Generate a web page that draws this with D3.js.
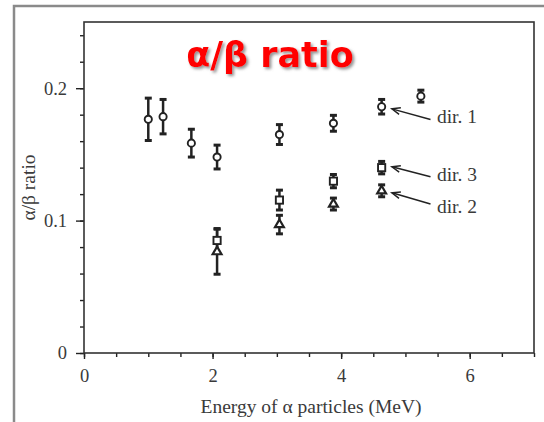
<!DOCTYPE html>
<html>
<head>
<meta charset="utf-8">
<script src="https://cdn.jsdelivr.net/npm/d3@7"></script>
<style>
  body { margin: 0; background: #fff; }
  svg { display: block; }
</style>
</head>
<body>
<div id="chart"></div>
<script>
// values
const energy = [1.0, 1.23, 1.67, 2.07, 3.04, 3.88, 4.63, 5.24];
const dir1Ratio = [0.1765, 0.1785, 0.1585, 0.148, 0.165, 0.1735, 0.186, 0.194];
const dir1Err = [0.016, 0.013, 0.0105, 0.009, 0.0075, 0.006, 0.0055, 0.0045];
const dirEnergy = [2.07, 3.04, 3.88, 4.63];
const dir3Ratio = [0.085, 0.1155, 0.1298, 0.140];
const dir3Err = [0.009, 0.0075, 0.005, 0.0047];
const dir2Ratio = [0.0765, 0.097, 0.1125, 0.1225];
const dir2Err = [0.017, 0.007, 0.0045, 0.0045];
const xTicks = [0, 2, 4, 6];
const yTicks = [0, 0.1, 0.2];
const dirLabels = ['dir. 1', 'dir. 3', 'dir. 2'];
const arrowTip = [[4.79, 0.1844], [4.79, 0.1406], [4.79, 0.121]];
const arrowTail = [[5.39, 0.1764], [5.39, 0.1331], [5.39, 0.1125]];
const labelAt = [[5.49, 0.1736], [5.49, 0.130], [5.49, 0.1054]];

const width = 544;
const height = 422;
const margin = { top: 22, right: 10, bottom: 69, left: 84 };
const innerWidth = width - margin.left - margin.right;
const innerHeight = height - margin.top - margin.bottom;
const ink = '#222';
const textInk = '#3a3a3a';
const serif = '"Liberation Serif", "Times New Roman", serif';

const svg = d3.select('#chart').append('svg').attr('width', width).attr('height', height);

const defs = svg.append('defs');
defs.append('filter').attr('id', 'shadow').attr('x', '-10%').attr('y', '-20%').attr('width', '130%').attr('height', '160%')
  .append('feDropShadow').attr('dx', 2).attr('dy', 2).attr('stdDeviation', 1.4)
  .attr('flood-color', '#777').attr('flood-opacity', 0.8);

// outer slide frame (top + left only visible)
svg.append('path').attr('d', `M14,${height} L14,6 L${width},6`)
  .attr('fill', 'none').attr('stroke', '#8a8a8a').attr('stroke-width', 2.5);

const g = svg.append('g').attr('transform', `translate(${margin.left}, ${margin.top})`);

const x = d3.scaleLinear().domain([0, 7]).range([0, innerWidth]);
const y = d3.scaleLinear().domain([0, 0.25]).range([innerHeight, 0]);

// minor ticks (no labels)
g.append('g').attr('transform', `translate(0, ${innerHeight})`)
  .call(d3.axisBottom(x).tickValues(d3.range(0, 7.01, 0.5)).tickSize(4).tickSizeOuter(0))
  .call(a => a.select('.domain').remove())
  .call(a => a.selectAll('text').remove());
g.append('g')
  .call(d3.axisLeft(y).tickValues(d3.range(0, 0.2401, 0.02)).tickSize(4).tickSizeOuter(0))
  .call(a => a.select('.domain').remove())
  .call(a => a.selectAll('text').remove());

// major ticks + labels
g.append('g').attr('transform', `translate(0, ${innerHeight})`)
  .call(d3.axisBottom(x).tickValues(xTicks).tickSize(6).tickPadding(10).tickFormat(d3.format('d')))
  .call(a => a.select('.domain').remove());
g.append('g')
  .call(d3.axisLeft(y).tickValues(yTicks).tickSize(8).tickPadding(9).tickFormat(d => d === 0 ? '0' : d3.format('.1f')(d)))
  .call(a => a.select('.domain').remove());

g.selectAll('.tick line').attr('stroke', ink).attr('stroke-width', 1.4);
g.selectAll('.tick text').attr('font-family', serif).attr('font-size', 18.5).attr('fill', textInk);

// plot frame
g.append('rect').attr('width', innerWidth).attr('height', innerHeight)
  .attr('fill', 'none').attr('stroke', '#333').attr('stroke-width', 1.6);

// axis titles
g.append('text').attr('x', innerWidth / 2 + 2).attr('y', innerHeight + 60)
  .attr('text-anchor', 'middle').attr('font-family', serif).attr('font-size', 19.5).attr('fill', textInk)
  .text('Energy of α particles (MeV)');
g.append('text').attr('transform', `translate(${-49}, ${innerHeight / 2}) rotate(-90)`)
  .attr('text-anchor', 'middle').attr('font-family', serif).attr('font-size', 19.5).attr('fill', textInk)
  .text('α/β ratio');

// error bars
function errorBars(xs, ys, es) {
  const data = xs.map((d, i) => ({ x: d, y: ys[i], e: es[i] }));
  const bars = g.append('g').attr('stroke', ink).attr('stroke-width', 2.5).attr('fill', 'none');
  bars.selectAll('line.v').data(data).join('line').attr('class', 'v')
    .attr('x1', d => x(d.x)).attr('x2', d => x(d.x))
    .attr('y1', d => y(d.y - d.e)).attr('y2', d => y(d.y + d.e));
  bars.selectAll('line.t').data(data).join('line').attr('class', 't')
    .attr('x1', d => x(d.x) - 3.5).attr('x2', d => x(d.x) + 3.5)
    .attr('y1', d => y(d.y + d.e)).attr('y2', d => y(d.y + d.e)).attr('stroke-width', 3);
  bars.selectAll('line.b').data(data).join('line').attr('class', 'b')
    .attr('x1', d => x(d.x) - 3.5).attr('x2', d => x(d.x) + 3.5)
    .attr('y1', d => y(d.y - d.e)).attr('y2', d => y(d.y - d.e)).attr('stroke-width', 3);
  return data;
}

const d1 = errorBars(energy, dir1Ratio, dir1Err);
const d3s = errorBars(dirEnergy, dir3Ratio, dir3Err);
const d2 = errorBars(dirEnergy, dir2Ratio, dir2Err);

// markers
g.append('g').selectAll('circle').data(d1).join('circle')
  .attr('cx', d => x(d.x)).attr('cy', d => y(d.y)).attr('r', 3.6)
  .attr('fill', '#fff').attr('stroke', ink).attr('stroke-width', 1.9);
g.append('g').selectAll('rect').data(d3s).join('rect')
  .attr('x', d => x(d.x) - 3.6).attr('y', d => y(d.y) - 3.6).attr('width', 7.2).attr('height', 7.2)
  .attr('fill', '#fff').attr('stroke', ink).attr('stroke-width', 1.9);
g.append('g').selectAll('path').data(d2).join('path')
  .attr('transform', d => `translate(${x(d.x)}, ${y(d.y)})`)
  .attr('d', d3.symbol(d3.symbolTriangle, 34))
  .attr('fill', '#fff').attr('stroke', ink).attr('stroke-width', 2.2);

// annotations
const notes = g.append('g');
dirLabels.forEach((label, i) => {
  const [tx, ty] = [x(arrowTip[i][0]), y(arrowTip[i][1])];
  const [sx, sy] = [x(arrowTail[i][0]), y(arrowTail[i][1])];
  const ang = Math.atan2(sy - ty, sx - tx);
  const head = 9, spread = 0.38;
  notes.append('line').attr('x1', sx).attr('y1', sy).attr('x2', tx).attr('y2', ty)
    .attr('stroke', ink).attr('stroke-width', 1.5);
  notes.append('path')
    .attr('d', `M${tx + head * Math.cos(ang - spread)},${ty + head * Math.sin(ang - spread)} L${tx},${ty} L${tx + head * Math.cos(ang + spread)},${ty + head * Math.sin(ang + spread)}`)
    .attr('fill', 'none').attr('stroke', ink).attr('stroke-width', 1.5);
  notes.append('text').attr('x', x(labelAt[i][0])).attr('y', y(labelAt[i][1]))
    .attr('font-family', serif).attr('font-size', 19.5).attr('fill', textInk).text(label);
});

// title
svg.append('text').attr('x', 270).attr('y', 67).attr('text-anchor', 'middle')
  .attr('font-family', '"DejaVu Sans", sans-serif').attr('font-weight', 'bold').attr('font-size', 35)
  .attr('fill', '#ff0000').attr('filter', 'url(#shadow)')
  .text('α/β ratio');
</script>
</body>
</html>
